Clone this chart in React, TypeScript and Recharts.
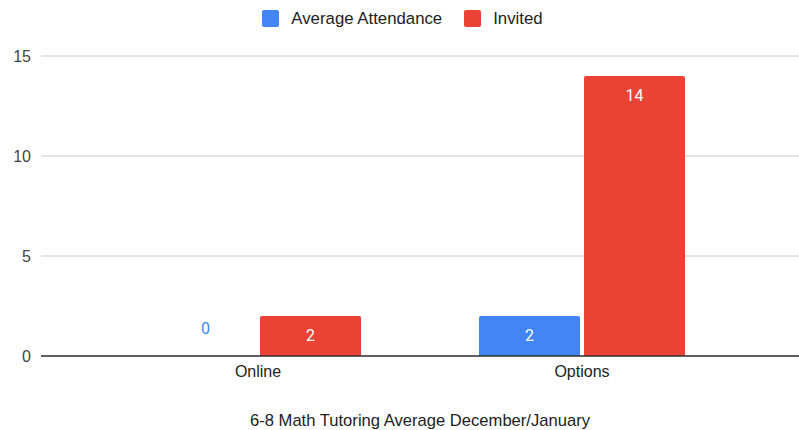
import React from "react";
import { Bar, BarChart, CartesianGrid, LabelList, XAxis, YAxis } from "recharts";

const categories = ["Online", "Options"];
const attendance = [0, 2];
const invited = [2, 14];
const yTicks = [0, 5, 10, 15];
const title = "6-8 Math Tutoring Average December/January";

const BLUE = "#4285f4";
const RED = "#ea4335";
const FONT = "'Liberation Sans', Arial, sans-serif";

const data = categories.map((name, i) => ({
  name,
  attendance: attendance[i],
  invited: invited[i],
}));

const series = [
  { key: "attendance", name: "Average Attendance", color: BLUE },
  { key: "invited", name: "Invited", color: RED },
];

// zero-valued bars get a hair-thin rect so their label is still drawn
const tinyForZero = (value: any) => (Number(value) === 0 ? 0.01 : 0);

function makeLabel(color: string) {
  return (props: any) => {
    const { x, y, width, value } = props;
    const cx = Number(x) + Number(width) / 2;
    const outside = Number(value) === 0;
    return (
      <text
        x={cx}
        y={outside ? Number(y) - 27 : Number(y) + 19}
        textAnchor="middle"
        dominantBaseline="central"
        fill={outside ? color : "#ffffff"}
        fontSize={16}
        fontFamily="Roboto, sans-serif"
      >
        {value}
      </text>
    );
  };
}

export default function App() {
  return (
    <div style={{ position: "absolute", left: 0, top: 0, width: 799, height: 430, background: "#fff" }}>
      <div
        style={{
          position: "absolute",
          top: 10,
          left: 0,
          width: 799,
          display: "flex",
          justifyContent: "center",
          paddingLeft: 6,
          boxSizing: "border-box",
          fontFamily: FONT,
          fontSize: 16.8,
          color: "#222",
        }}
      >
        {series.map((s, i) => (
          <div key={s.key} style={{ display: "flex", alignItems: "center", marginLeft: i ? 22 : 0 }}>
            <span style={{ width: 17, height: 17, borderRadius: 2, background: s.color, display: "inline-block", marginRight: 12 }} />
            <span style={{ lineHeight: "17px" }}>{s.name}</span>
          </div>
        ))}
      </div>
      <BarChart
        width={799}
        height={430}
        data={data}
        margin={{ top: 56, right: 0, bottom: 0, left: 0 }}
        barCategoryGap={59}
        barGap={4}
      >
        <CartesianGrid vertical={false} stroke="#cccccc" strokeWidth={1} />
        <XAxis
          dataKey="name"
          height={74}
          padding={{ left: 55, right: 55 }}
          axisLine={{ stroke: "#333333", strokeWidth: 1.5 }}
          tickLine={false}
          tickMargin={4}
          tick={{ fill: "#222", fontSize: 16, fontFamily: FONT }}
          label={{ value: title, position: "insideBottom", offset: 4, fill: "#222", fontSize: 16.6, fontFamily: FONT }}
        />
        <YAxis
          width={41}
          domain={[0, 15]}
          ticks={yTicks}
          axisLine={false}
          tickLine={false}
          tickMargin={4}
          tick={{ fill: "#444", fontSize: 16, fontFamily: FONT }}
        />
        {series.map((s) => (
          <Bar
            key={s.key}
            dataKey={s.key}
            name={s.name}
            fill={s.color}
            radius={[2, 2, 0, 0]}
            minPointSize={tinyForZero}
            isAnimationActive={false}
          >
            <LabelList dataKey={s.key} content={makeLabel(s.color)} />
          </Bar>
        ))}
      </BarChart>
    </div>
  );
}
